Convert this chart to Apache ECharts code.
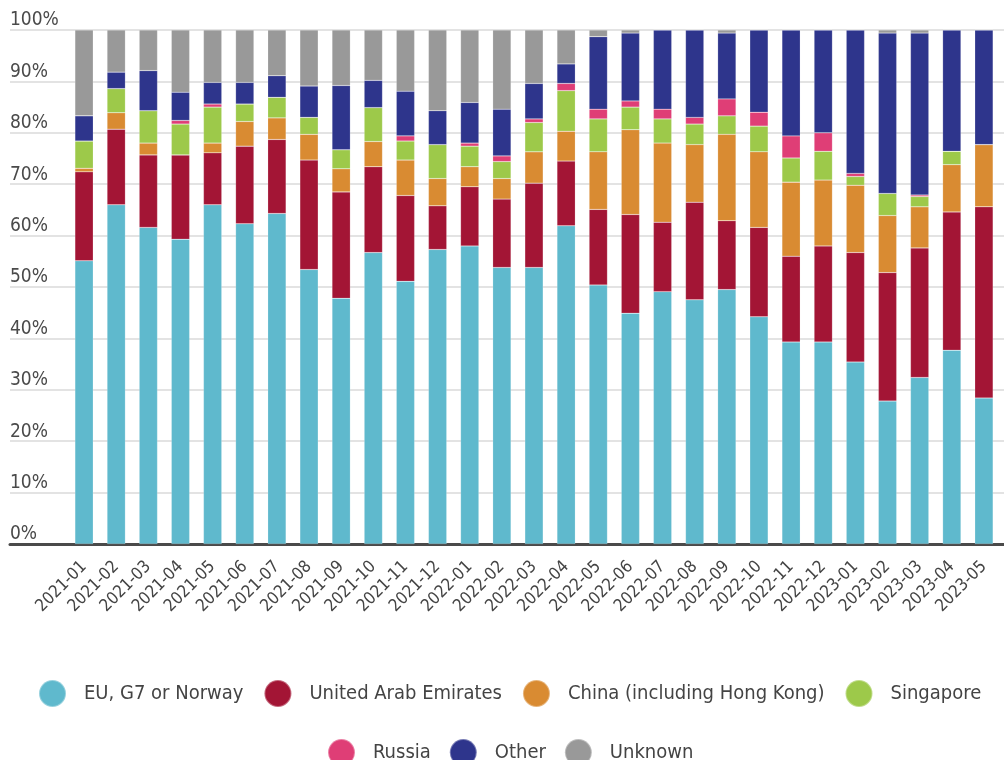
<!DOCTYPE html>
<html>
<head>
<meta charset="utf-8">
<script src="https://cdn.jsdelivr.net/npm/echarts@6/dist/echarts.min.js"></script>
<style>html,body{margin:0;padding:0;background:#fff}#c{width:1004px;height:760px}</style>
</head>
<body>
<div id="c"></div>
<script>
const categories = ['2021-01','2021-02','2021-03','2021-04','2021-05','2021-06','2021-07','2021-08','2021-09','2021-10','2021-11','2021-12','2022-01','2022-02','2022-03','2022-04','2022-05','2022-06','2022-07','2022-08','2022-09','2022-10','2022-11','2022-12','2023-01','2023-02','2023-03','2023-04','2023-05'];
const euG7Norway = [55.1,66.0,61.6,59.3,66.0,62.3,64.3,53.4,47.8,56.7,51.1,57.3,58.0,53.8,53.8,61.9,50.4,44.9,49.1,47.5,49.5,44.2,39.3,39.3,35.4,27.8,32.4,37.7,28.4];
const uae = [17.3,14.7,14.1,16.4,10.1,15.1,14.4,21.3,20.7,16.7,16.7,8.5,11.5,13.3,16.4,12.6,14.7,19.2,13.5,19.0,13.4,17.4,16.7,18.7,21.3,25.0,25.2,26.9,37.2];
const china = [0.7,3.2,2.3,0,1.9,4.8,4.2,5.0,4.5,4.9,6.9,5.3,3.9,4.0,6.1,5.8,11.2,16.5,15.4,11.2,16.8,14.7,14.4,12.8,13.1,11.1,8.0,9.2,12.1];
const singapore = [5.3,4.7,6.3,6.0,7.0,3.4,4.0,3.3,3.7,6.6,3.7,6.6,4.0,3.3,5.7,7.9,6.4,4.4,4.7,4.0,3.6,5.0,4.7,5.6,1.7,4.3,2.0,2.6,0];
const russia = [0,0,0,0.7,0.6,0,0,0,0,0,1.0,0,0.6,1.1,0.7,1.4,1.9,1.2,1.9,1.3,3.3,2.7,4.3,3.6,0.6,0,0.3,0,0];
const other = [4.9,3.2,7.8,5.5,4.2,4.2,4.2,6.1,12.5,5.3,8.7,6.6,7.9,9.1,6.9,3.8,14.1,13.2,15.4,17.0,12.8,16.0,20.6,20.0,27.9,31.2,31.5,23.6,22.3];
const unknown = [16.7,8.2,7.9,12.1,10.2,10.2,8.9,10.9,10.8,9.8,11.9,15.7,14.1,15.4,10.4,6.6,1.3,0.6,0,0,0.6,0,0,0,0,0.6,0.6,0,0];
const seriesNames = ['EU, G7 or Norway','United Arab Emirates','China (including Hong Kong)','Singapore','Russia','Other','Unknown'];
const colors = ['#5fb9cd','#a31535','#d98b32','#9dc94a','#df3e76','#2e358c','#999999'];
const yTicks = [0,10,20,30,40,50,60,70,80,90,100];

const FONT = "'DejaVu Sans Condensed', 'Liberation Sans Narrow', sans-serif";
const seriesData = [euG7Norway, uae, china, singapore, russia, other, unknown];

const chart = echarts.init(document.getElementById('c'), null, {renderer:'canvas'});
chart.setOption({
  animation: false,
  backgroundColor: '#fff',
  color: colors,
  grid: [
    {left: 10, right: 0, top: 30, bottom: 216},
    {left: 68, right: 4, top: 30, bottom: 216}
  ],
  xAxis: [
    {gridIndex: 0, type: 'value', min: 0, max: 1, axisLabel: {show: false}, axisTick: {show: false}, splitLine: {show: false},
     axisLine: {show: true, onZero: false, lineStyle: {color: '#4a4a4a', width: 3}}},
    {gridIndex: 1, type: 'category', data: categories, axisLine: {show: false}, axisTick: {show: false},
     axisLabel: {rotate: 45, margin: 20, fontSize: 17, color: '#444', fontFamily: FONT, interval: 0}}
  ],
  yAxis: [
    {gridIndex: 0, type: 'value', min: yTicks[0], max: yTicks[yTicks.length-1], interval: 10,
     axisLine: {show: false}, axisTick: {show: false},
     axisLabel: {inside: true, margin: 0, formatter: '{value}%', fontSize: 19, color: '#4a4a4a', fontFamily: FONT, verticalAlign: 'bottom'},
     splitLine: {lineStyle: {color: '#e3e3e3', width: 2}}},
    {gridIndex: 1, type: 'value', min: 0, max: 100, show: false}
  ],
  legend: [
    {data: seriesNames.slice(0,4), left: 33, top: 674, icon: 'circle', itemWidth: 27, itemHeight: 27, itemGap: 20,
     textStyle: {fontSize: 20, color: '#444', fontFamily: FONT, padding: [0,0,0,13]}},
    {data: seriesNames.slice(4), left: 322, top: 733, icon: 'circle', itemWidth: 27, itemHeight: 27, itemGap: 18,
     textStyle: {fontSize: 20, color: '#444', fontFamily: FONT, padding: [0,0,0,13]}}
  ],
  series: seriesNames.map((n, i) => ({
    name: n, type: 'bar', stack: 'total', xAxisIndex: 1, yAxisIndex: 1, barWidth: '57%',
    data: seriesData[i],
    itemStyle: {color: colors[i], borderColor: 'rgba(255,255,255,0.35)', borderWidth: 0.5}
  }))
});
</script>
</body>
</html>
